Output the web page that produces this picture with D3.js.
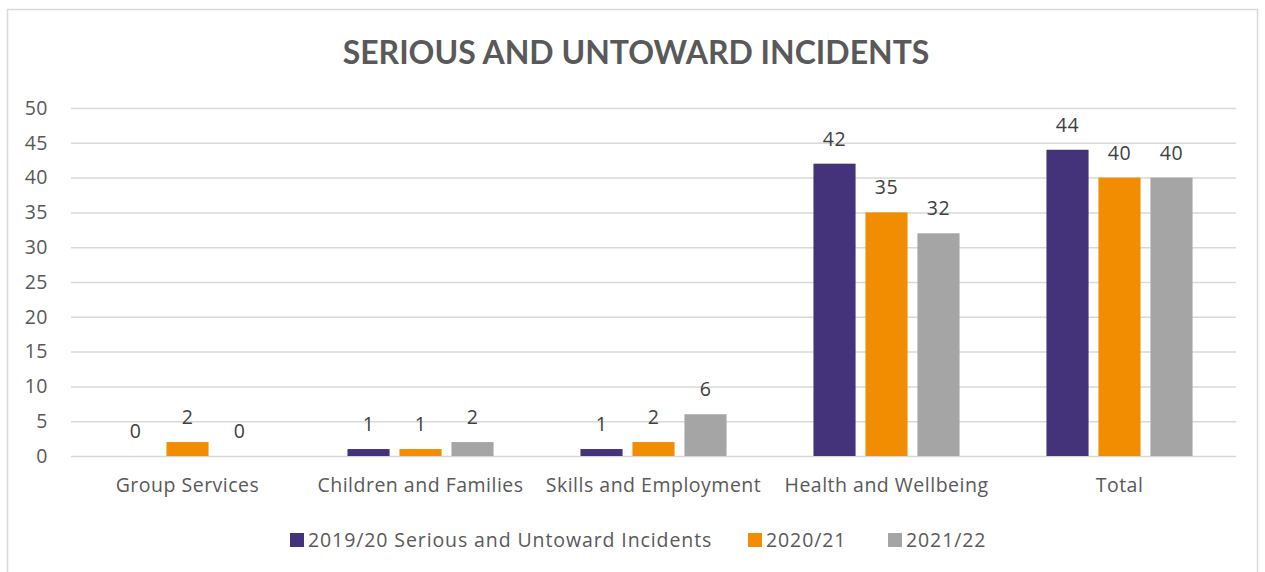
<!DOCTYPE html>
<html><head><meta charset="utf-8">
<script src="https://cdn.jsdelivr.net/npm/d3@7"></script>
<style>body{margin:0;background:#fff;}svg{display:block;}</style>
</head><body><svg id="c" width="1265" height="572"></svg>
<script>
const categories = ["Group Services","Children and Families","Skills and Employment","Health and Wellbeing","Total"];
const seriesNames = ["2019/20 Serious and Untoward Incidents","2020/21","2021/22"];
const s2019 = [0,1,1,42,44];
const s2020 = [2,1,2,35,40];
const s2021 = [0,2,6,32,40];
const yTicks = [0,5,10,15,20,25,30,35,40,45,50];
const colors = ["#44337A","#F28C00","#A5A5A5"];
const title = "SERIOUS AND UNTOWARD INCIDENTS";

const series = [s2019,s2020,s2021];
const svg = d3.select("#c");
const FONT = "'Open Sans', sans-serif";
const FS = 19.5;
const LS = 0.5;
svg.append("rect").attr("x",7.5).attr("y",9.5).attr("width",1250).attr("height",570)
  .attr("fill","#fff").attr("stroke","#D9D9D9").attr("stroke-width",1.5);

const x0 = d3.scaleBand().domain(categories).range([71,1236]).paddingInner(0.373).paddingOuter(0.1865);
const x1 = d3.scaleBand().domain(d3.range(3)).range([0,x0.bandwidth()]).paddingInner(0.19);
const y = d3.scaleLinear().domain([0,50]).range([456,108]);

// title
const t = svg.append("text").attr("x",636).attr("y",64).attr("text-anchor","middle")
  .attr("font-family","Lato, sans-serif").attr("font-weight","bold").attr("font-size",28).attr("fill","#595959").text(title);
const tw = t.node().getComputedTextLength(); t.attr("font-size",28*587/tw);

// grid
const yAxis = d3.axisLeft(y).tickValues(yTicks).tickSize(-(1236-71)).tickPadding(24);
const ga = svg.append("g").attr("transform","translate(71,0)").call(yAxis);
ga.select(".domain").remove();
ga.selectAll(".tick line").attr("stroke","#D9D9D9").attr("stroke-width",1.5);
ga.selectAll(".tick text").attr("font-family",FONT).attr("font-size",FS).attr("letter-spacing",LS).attr("fill","#595959").attr("x",-23);

// x axis labels
const xa = d3.axisBottom(x0).tickSize(0).tickPadding(22);
const gx = svg.append("g").attr("transform","translate(0,456)").call(xa);
gx.select(".domain").remove();
gx.selectAll(".tick text").attr("font-family",FONT).attr("font-size",FS).attr("letter-spacing",LS).attr("fill","#595959");

// bars
categories.forEach((c,i)=>{
  series.forEach((s,j)=>{
    const bx = x0(c)+x1(j);
    svg.append("rect").attr("x",bx).attr("y",y(s[i])).attr("width",x1.bandwidth())
      .attr("height",y(0)-y(s[i])).attr("fill",colors[j]);
    svg.append("text").attr("x",bx+x1.bandwidth()/2).attr("y",y(s[i])-18)
      .attr("text-anchor","middle").attr("font-family",FONT).attr("font-size",FS).attr("letter-spacing",LS).attr("fill","#404040").text(s[i]);
  });
});

// legend
const lg = svg.append("g");
const legX = [290,748,888];
seriesNames.forEach((n,j)=>{
  lg.append("rect").attr("x",legX[j]).attr("y",533).attr("width",14).attr("height",14).attr("fill",colors[j]);
  lg.append("text").attr("x",legX[j]+18).attr("y",547).attr("font-family",FONT).attr("font-size",FS).attr("letter-spacing",0.9).attr("fill","#595959").text(n);
});
</script></body></html>
